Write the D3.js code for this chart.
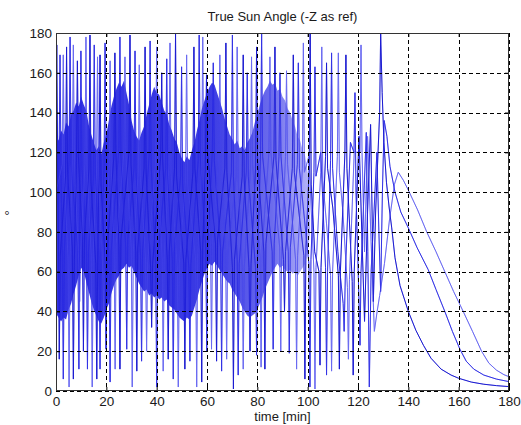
<!DOCTYPE html>
<html>
<head>
<meta charset="utf-8">
<script src="https://cdn.jsdelivr.net/npm/d3@7"></script>
<style>
  body { margin: 0; background: #ffffff; }
  svg text { font-family: "Liberation Sans", Arial, sans-serif; fill: #1a1a1a; }
</style>
</head>
<body>
<svg id="chart" width="521" height="425"></svg>
<script>
// Axis ticks
const xTicks = [0, 20, 40, 60, 80, 100, 120, 140, 160, 180];
const yTicks = [0, 20, 40, 60, 80, 100, 120, 140, 160, 180];

// Envelope of the fast-oscillation band (time in min, angle in deg)
const bandTime  = [0,1,2,3,4,5,6,7,8,9,10,11,12,13,14,15,16,17,18,19,20,21,22,23,24,25,26,27,28,29,30,31,32,33,34,35,36,37,38,39,40,41,42,43,44,45,46,47,48,49,50,51,52,53,54,55,56,57,58,59,60,61,62,63,64,65,66,67,68,69,70,71,72,73,74,75,76,77,78,79,80,81,82,83,84,85,86,87,88,89,90,91,92,93,94,95,96,97,98,99,100,101];
const bandUpper = [128,126,131,129,135,133,139,141,145,143,148,144,141,134,129,125,121,123,119,125,129,136,143,148,152,155,153,156,150,144,136,131,128,126,130,133,139,144,149,153,150,149,145,141,139,134,131,127,125,120,117,115,118,116,121,125,131,136,142,146,150,153,155,154,150,146,142,137,133,129,127,124,126,122,123,121,125,127,130,135,139,144,148,151,153,156,154,155,151,152,148,146,142,140,136,133,128,126,121,118,110,100];
const bandLower = [39,37,35,37,36,41,44,49,53,58,62,60,55,50,45,41,38,35,34,37,41,44,49,53,56,58,61,62,64,62,63,60,57,54,52,50,51,48,49,47,48,46,47,45,46,43,42,41,39,37,36,35,37,36,38,42,46,51,55,59,62,64,63,65,63,61,59,57,55,54,51,49,47,45,42,40,38,37,38,39,41,44,47,51,54,57,60,62,64,62,63,61,60,61,59,60,58,60,62,64,70,80];

// Sun angle traces (time in min, angle in deg)
const timeA  = [0,0.3,0.7,1.0,1.3,1.7,3.8,4.2,4.6,6.5,6.9,7.3,8.1,8.5,8.9,10.5,10.9,11.3,13.1,13.5,13.9,15.8,16.2,16.6,17.1,17.5,17.9,19.5,19.9,20.3,23.0,23.4,23.8,25.0,25.4,25.8,29.0,29.4,29.8,31.7,32.1,32.5,35.0,35.4,35.8,37.6,38.0,38.4,41.6,42.0,42.4,44.2,44.6,45.0,47.1,47.5,47.9,50.8,51.2,51.6,54.4,54.8,55.2,57.5,57.9,58.3,59.4,59.8,60.2,63.4,63.8,64.2,67.1,67.5,67.9,70.1,70.5,70.9,74.0,74.4,74.8,76.7,77.1,77.5,79.3,79.7,80.1,82.6,83.0,83.4,86.6,87.0,87.4,90.4,90.8,91.2,93.9,94.3,94.7,98.5,98.9,99.3,100.6,101.0,101.4,102.8,104.5,104.9,105.3,107.1,107.5,107.9,110.0,112.2,112.6,113.0,114.8,115.2,115.6,117.7,118.1,118.5,120.4,121.5,122.6,123.8,125.0,125.6,126.1,127.0,128.6,129.0,129.6,130.3,131.3,132.4,133.4,134.7,136.7,140,143,146,149,153,157,160,165,170,175,180];
const angleA = [120,174,112,70,16,68,108,173,110,72,6,66,115,166,118,75,20,78,112,179,105,64,6,70,110,169,104,66,21,70,118,170,120,72,11,76,120,179,114,70,10,72,112,173,110,62,32,64,118,160,116,66,16,70,112,180,108,64,11,66,110,173,112,70,4.5,72,118,159,120,74,15,76,112,175,110,62,1,66,108,169,106,62,20,64,112,173,116,70,11,74,118,173,116,66,40,70,112,169,110,68,6,72,112,180,104,70,60,13,62,118,165,112,92,58,11,60,120,169,112,55,8,60,128,80,35,90,134,90,45,90,140,180,150,125,105,92,82,67,53,40,30.5,23,16.5,11,8,6.4,4.5,3.4,2.7,2.2];

const timeB  = [0,1.2,1.6,2.0,2.5,2.9,3.3,5.2,5.6,6.0,8.7,9.1,9.5,9.9,10.3,12.1,12.5,12.9,14.8,15.2,15.6,17.1,17.5,17.9,19.1,19.5,19.9,21.1,21.5,21.9,25.0,25.4,25.8,27.7,28.1,28.5,31.0,31.4,31.8,33.6,34.0,34.4,37.0,37.4,37.8,39.6,40.0,40.4,43.6,44.0,44.4,46.2,46.6,47.0,49.5,49.9,50.3,52.8,53.2,53.6,56.5,56.9,57.3,59.5,59.9,60.3,62.1,62.5,62.9,65.4,65.8,66.2,69.7,70.1,70.5,72.0,72.4,72.8,75.6,76.0,76.4,79.3,79.7,80.1,81.3,81.7,82.1,85.9,86.3,86.7,88.6,89.0,89.4,92.3,92.7,93.1,95.9,96.3,96.7,100.5,100.9,101.3,102.5,102.9,103.3,105.2,107.1,107.5,107.9,109.1,109.5,109.9,112.0,114.1,114.5,115.0,117.0,118.4,118.8,119.2,120.4,120.8,121.2,123.3,123.9,124.5,125.2,127.5,128.3,129.0,129.7,130.4,131.5,132.7,134.7,137,140,143.5,147.9,151,154.5,157.5,160.5,163,166,170,175,180];
const angleB = [90,112,169,110,68,6,70,116,178,114,70,11,100,171,112,74,11,70,106,174,110,66,11,68,112,175,116,64,4.5,70,122,178,118,72,21,76,112,171,110,68,15,70,118,176,114,64,2,66,112,167,108,66,6,70,108,163,104,62,15,64,116,179,118,72,20,74,120,165,116,72,10,70,110,179,108,66,8,64,110,160,108,62,18,66,120,180,118,70,21,74,118,160,118,70,19,72,114,165,112,64,2,66,110,163,108,120,62,8,60,116,170,112,70,44,30,60,125,120,150,100,45,23,60,130,70,2,60,120,80,50,100,136,128,113,100,90,82,72,61,51,40,30,21,15,11,8,6,4.7];

const timeC  = [0,2.5,2.9,3.3,4.8,5.2,5.6,6.5,6.9,7.3,9.0,9.4,9.8,11.5,11.9,12.3,14.0,14.4,14.8,16.1,16.5,16.9,18.6,19.0,19.4,21.1,21.5,21.9,23.1,23.5,23.9,27.0,27.4,27.8,29.9,30.3,30.7,32.7,33.1,33.5,35.6,36.0,36.4,39.6,40.0,40.4,42.2,42.6,43.0,44.9,45.3,45.7,48.2,48.6,49.0,51.5,51.9,52.3,55.5,55.9,56.3,57.9,58.3,58.7,61.4,61.8,62.2,64.7,65.1,65.5,67.4,67.8,68.2,71.6,72.0,72.4,74.0,74.4,74.8,77.3,77.7,78.1,81.1,81.5,81.9,84.6,85.0,85.4,88.9,89.3,89.7,91.2,91.6,92.0,95.2,95.6,96.0,97.9,98.3,98.7,100.5,102.5,102.9,103.3,105.2,105.6,106.0,107.5,109.1,109.5,109.9,111.8,112.2,112.6,114.0,115.8,116.2,116.6,118.5,120.8,121.2,121.6,122.6,123.8,125.2,126.5,127.6,128.6,130.5,132.5,134.5,136.0,138,140,143.7,147.3,151,154.5,158,161.8,165.5,169.1,172,175,178,180];
const angleC = [100,114,169,110,66,2,68,118,174,116,66,45,70,114,178,112,68,2,70,110,168,108,60,38,62,112,166,114,70,11,74,120,168,118,72,2,70,110,164,108,66,20,64,116,173,114,66,10,68,114,175,110,62,2,64,106,169,104,66,2,68,112,178,116,74,21,76,118,169,114,70,16,68,108,173,106,62,11,62,112,168,114,68,12,72,120,168,120,72,20,74,118,161,114,66,11,68,112,175,110,118,60,1,62,110,173,106,84,58,10,60,118,170,110,90,52,16,56,120,120,174,120,70,128,75,30,40,48,64,86,104,110,106,101,91,80,70,60,50,40,30,20,14,10.5,8.2,7.2];

const traces = [
  { time: timeC, angle: angleC, color: "#6a6af2" },
  { time: timeB, angle: angleB, color: "#3434e6" },
  { time: timeA, angle: angleA, color: "#1c1cd2" }
];

const svg = d3.select("#chart");
const plot = { left: 56, right: 509, top: 33, bottom: 391 };

const x = d3.scaleLinear().domain([0, 180]).range([plot.left, plot.right]);
const y = d3.scaleLinear().domain([0, 180]).range([plot.bottom, plot.top]);

svg.append("rect").attr("width", 521).attr("height", 425).attr("fill", "#ffffff");

const defs = svg.append("defs");
defs.append("clipPath").attr("id", "plotClip")
  .append("rect")
  .attr("x", plot.left).attr("y", plot.top)
  .attr("width", plot.right - plot.left).attr("height", plot.bottom - plot.top);

// Band fades out as the oscillation dies down
const grad = defs.append("linearGradient").attr("id", "bandFade")
  .attr("gradientUnits", "userSpaceOnUse")
  .attr("x1", x(0)).attr("x2", x(101)).attr("y1", 0).attr("y2", 0);
grad.append("stop").attr("offset", 0).attr("stop-color", "#2424e0").attr("stop-opacity", 0.93);
grad.append("stop").attr("offset", 0.6).attr("stop-color", "#2424e0").attr("stop-opacity", 0.9);
grad.append("stop").attr("offset", 0.85).attr("stop-color", "#3a3ae6").attr("stop-opacity", 0.75);
grad.append("stop").attr("offset", 1).attr("stop-color", "#5a5aee").attr("stop-opacity", 0.45);

const layer = svg.append("g").attr("clip-path", "url(#plotClip)");

const line = d3.line().x(d => x(d.t)).y(d => y(d.v));
const traceData = traces.map(tr => ({
  color: tr.color,
  pts: tr.time.map((t, i) => ({ t, v: tr.angle[i] }))
}));

// Traces underneath the band show through it as texture
traceData.forEach(tr => {
  layer.append("path")
    .datum(tr.pts)
    .attr("fill", "none")
    .attr("stroke", tr.color)
    .attr("stroke-width", 1)
    .attr("stroke-linejoin", "round")
    .attr("d", line);
});

const bandData = bandTime.map((t, i) => ({ t, lo: bandLower[i], hi: bandUpper[i] }));
layer.append("path")
  .datum(bandData)
  .attr("fill", "url(#bandFade)")
  .attr("d", d3.area().x(d => x(d.t)).y0(d => y(d.lo)).y1(d => y(d.hi)));

// Faint copies of the traces over the band
traceData.forEach(tr => {
  layer.append("path")
    .datum(tr.pts)
    .attr("fill", "none")
    .attr("stroke", tr.color)
    .attr("stroke-opacity", 0.35)
    .attr("stroke-width", 1)
    .attr("d", line);
});

// Dashed grid
const grid = svg.append("g");
grid.selectAll("line.gx").data(xTicks).join("line")
  .attr("x1", d => Math.round(x(d)) + 0.5).attr("x2", d => Math.round(x(d)) + 0.5)
  .attr("y1", plot.top).attr("y2", plot.bottom)
  .attr("stroke", "#000").attr("stroke-width", 1).attr("stroke-dasharray", "4,3");
grid.selectAll("line.gy").data(yTicks).join("line")
  .attr("y1", d => Math.round(y(d)) + 0.5).attr("y2", d => Math.round(y(d)) + 0.5)
  .attr("x1", plot.left).attr("x2", plot.right)
  .attr("stroke", "#000").attr("stroke-width", 1).attr("stroke-dasharray", "4,3");

// Axes with tick labels
const xAxis = svg.append("g")
  .attr("transform", `translate(0,${plot.bottom})`)
  .call(d3.axisBottom(x).tickValues(xTicks).tickSizeInner(-4).tickSizeOuter(0).tickPadding(5));
const yAxis = svg.append("g")
  .attr("transform", `translate(${plot.left},0)`)
  .call(d3.axisLeft(y).tickValues(yTicks).tickSizeInner(-4).tickSizeOuter(0).tickPadding(4));
svg.append("g")
  .attr("transform", `translate(0,${plot.top})`)
  .call(d3.axisTop(x).tickValues(xTicks).tickSizeInner(-4).tickSizeOuter(0).tickFormat(""));
svg.append("g")
  .attr("transform", `translate(${plot.right},0)`)
  .call(d3.axisRight(y).tickValues(yTicks).tickSizeInner(-4).tickSizeOuter(0).tickFormat(""));

svg.selectAll(".domain").remove();
svg.selectAll(".tick line").attr("stroke", "#000");
[xAxis, yAxis].forEach(a => a.selectAll("text")
  .style("font-family", '"Liberation Sans", Arial, sans-serif')
  .style("font-size", "13.5px")
  .attr("fill", "#1a1a1a"));

// Frame
svg.append("rect")
  .attr("x", plot.left + 0.5).attr("y", plot.top + 0.5)
  .attr("width", plot.right - plot.left - 1).attr("height", plot.bottom - plot.top - 1)
  .attr("fill", "none").attr("stroke", "#333").attr("stroke-width", 1);

// Titles
svg.append("text")
  .attr("x", (plot.left + plot.right) / 2).attr("y", 21)
  .attr("text-anchor", "middle").style("font-size", "13px")
  .text("True Sun Angle (-Z as ref)");
svg.append("text")
  .attr("x", (plot.left + plot.right) / 2).attr("y", 421)
  .attr("text-anchor", "middle").style("font-size", "13px")
  .text("time [min]");
svg.append("text")
  .attr("transform", "translate(14,213) rotate(-90)")
  .attr("text-anchor", "middle").style("font-size", "13px")
  .text("°");
</script>
</body>
</html>
